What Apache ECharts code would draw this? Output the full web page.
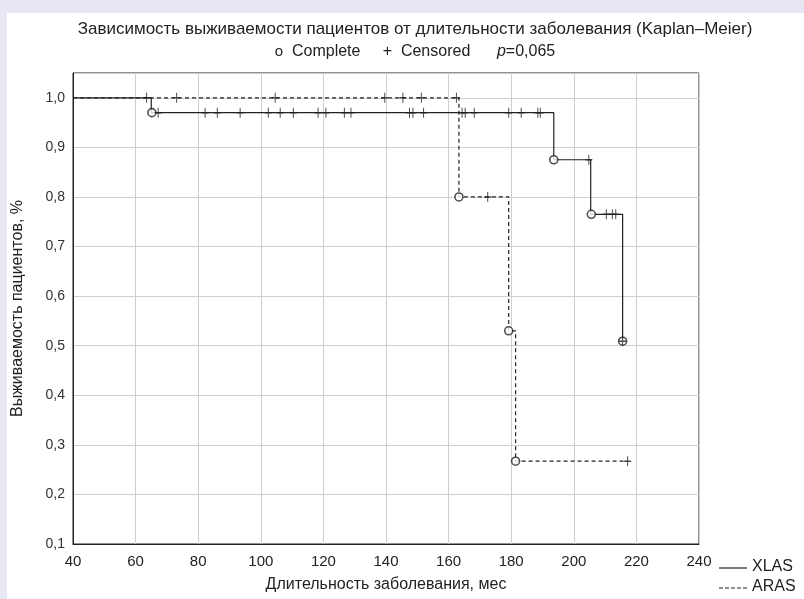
<!DOCTYPE html>
<html><head><meta charset="utf-8">
<script src="https://cdn.jsdelivr.net/npm/echarts@6/dist/echarts.min.js"></script>
<style>html,body{margin:0;padding:0;background:#e8e8f4;}#c{width:804px;height:599px;}</style>
</head><body><div id="c"></div>
<script>
// ---- data ----
const xTicks = [40, 60, 80, 100, 120, 140, 160, 180, 200, 220, 240];
const yTicks = [0.1, 0.2, 0.3, 0.4, 0.5, 0.6, 0.7, 0.8, 0.9, 1.0];
const seriesNames = ['XLAS', 'ARAS'];
// Kaplan-Meier step curves (time, survival after the step)
const xlasTimes = [40, 65, 193.6, 205.4, 215.6];
const xlasSurv  = [1.0, 0.97, 0.875, 0.765, 0.509];
const arasTimes = [40, 163.3, 179.2, 181.4, 217.2];
const arasSurv  = [1.0, 0.80, 0.53, 0.267, 0.267];
// complete (event) marks
const xlasEventT = [65.2, 193.6, 205.6, 215.6];
const xlasEventS = [0.97, 0.875, 0.765, 0.509];
const arasEventT = [163.3, 179.2, 181.4];
const arasEventS = [0.80, 0.53, 0.267];
// censored marks
const xlasCensT = [67.2, 82.2, 86.1, 93.4, 102.4, 106.2, 110.4, 118.3, 120.8, 126.7, 128.8, 147.5, 148.6, 152, 164.3, 165.3, 168.2, 179.2, 183.2, 188.5, 189.3, 204.8, 210.4, 212.3, 213.4, 215.6];
const xlasCensS = [0.97, 0.97, 0.97, 0.97, 0.97, 0.97, 0.97, 0.97, 0.97, 0.97, 0.97, 0.97, 0.97, 0.97, 0.97, 0.97, 0.97, 0.97, 0.97, 0.97, 0.97, 0.875, 0.765, 0.765, 0.765, 0.509];
const arasCensT = [63.5, 73.1, 104.6, 139.6, 145.4, 151.3, 162.5, 172.5, 217.2];
const arasCensS = [1.0, 1.0, 1.0, 1.0, 1.0, 1.0, 1.0, 0.80, 0.267];

const zip = (a, b) => a.map((v, i) => [v, b[i]]);
const ink = '#222222';
const font = '"Liberation Sans", Arial, sans-serif';
const plusPath = 'path://M5,0 L5,10 M1.5,5 L8.5,5';

const chart = echarts.init(document.getElementById('c'));
chart.setOption({
  backgroundColor: '#e8e8f4',
  animation: false,
  graphic: [
    {type: 'rect', z: -10, shape: {x: 7, y: 13, width: 797, height: 586}, style: {fill: '#ffffff'}},
    {type: 'line', shape: {x1: 719, y1: 568, x2: 747, y2: 568}, style: {stroke: ink, lineWidth: 1.2}},
    {type: 'text', left: 752, top: 559, style: {text: seriesNames[0], font: '16px ' + font, fill: ink}},
    {type: 'line', shape: {x1: 719, y1: 588, x2: 747, y2: 588}, style: {stroke: ink, lineWidth: 1.2, lineDash: [4, 2]}},
    {type: 'text', left: 752, top: 579, style: {text: seriesNames[1], font: '16px ' + font, fill: ink}}
  ],
  title: [
    {text: 'Зависимость выживаемости пациентов от длительности заболевания (Kaplan–Meier)',
     left: 410, textAlign: 'center', top: 16, textStyle: {fontFamily: font, fontSize: 17, fontWeight: 'normal', color: ink}},
    {text: '{o|o}  Complete     +  Censored      {i|p}=0,065', left: 410, textAlign: 'center', top: 39,
     textStyle: {fontFamily: font, fontSize: 16, fontWeight: 'normal', color: ink,
       rich: {o: {fontFamily: font, fontSize: 15, color: ink}, i: {fontFamily: font, fontSize: 16, fontStyle: 'italic', color: ink}}}}
  ],
  grid: {left: 73, right: 105, top: 73, bottom: 55, show: true, borderColor: ink, borderWidth: 1, backgroundColor: 'transparent'},
  xAxis: {
    type: 'value', min: xTicks[0], max: xTicks[xTicks.length - 1], interval: 20,
    axisLine: {show: true, lineStyle: {color: ink}}, axisTick: {show: false},
    splitLine: {show: true, lineStyle: {color: '#cfcfcf'}},
    axisLabel: {fontFamily: font, fontSize: 15, color: ink, margin: 10},
    name: 'Длительность заболевания, мес', nameLocation: 'middle', nameGap: 33,
    nameTextStyle: {fontFamily: font, fontSize: 16, color: ink}
  },
  yAxis: {
    type: 'value', min: yTicks[0], max: 1.05, interval: 0.1,
    axisLine: {show: true, lineStyle: {color: ink}}, axisTick: {show: false},
    splitLine: {show: true, lineStyle: {color: '#cfcfcf'}},
    axisLabel: {fontFamily: font, fontSize: 14, color: '#333', margin: 8,
      formatter: v => v > 1.001 ? '' : v.toFixed(1).replace('.', ',')},
    name: 'Выживаемость пациентов, %', nameLocation: 'middle', nameGap: 47,
    nameTextStyle: {fontFamily: font, fontSize: 16, color: ink}
  },
  series: [
    {name: seriesNames[0], type: 'line', step: 'end', data: zip(xlasTimes, xlasSurv), symbol: 'none',
     lineStyle: {color: ink, width: 1.2}, itemStyle: {color: ink}, z: 3},
    {name: seriesNames[1], type: 'line', step: 'end', data: zip(arasTimes, arasSurv), symbol: 'none',
     lineStyle: {color: ink, width: 1.2, type: [4, 3]}, itemStyle: {color: ink}, z: 3},
    {name: 'XLAS complete', type: 'scatter', data: zip(xlasEventT, xlasEventS), symbol: 'circle', symbolSize: 8,
     itemStyle: {color: '#fff', borderColor: ink, borderWidth: 1.6}, z: 5},
    {name: 'ARAS complete', type: 'scatter', data: zip(arasEventT, arasEventS), symbol: 'circle', symbolSize: 8,
     itemStyle: {color: '#fff', borderColor: ink, borderWidth: 1.6}, z: 5},
    {name: 'XLAS censored', type: 'scatter', data: zip(xlasCensT, xlasCensS), symbol: plusPath, symbolSize: [7, 10],
     itemStyle: {color: 'transparent', borderColor: ink, borderWidth: 1.2}, z: 6},
    {name: 'ARAS censored', type: 'scatter', data: zip(arasCensT, arasCensS), symbol: plusPath, symbolSize: [7, 10],
     itemStyle: {color: 'transparent', borderColor: ink, borderWidth: 1.2}, z: 6}
  ]
});
</script></body></html>
